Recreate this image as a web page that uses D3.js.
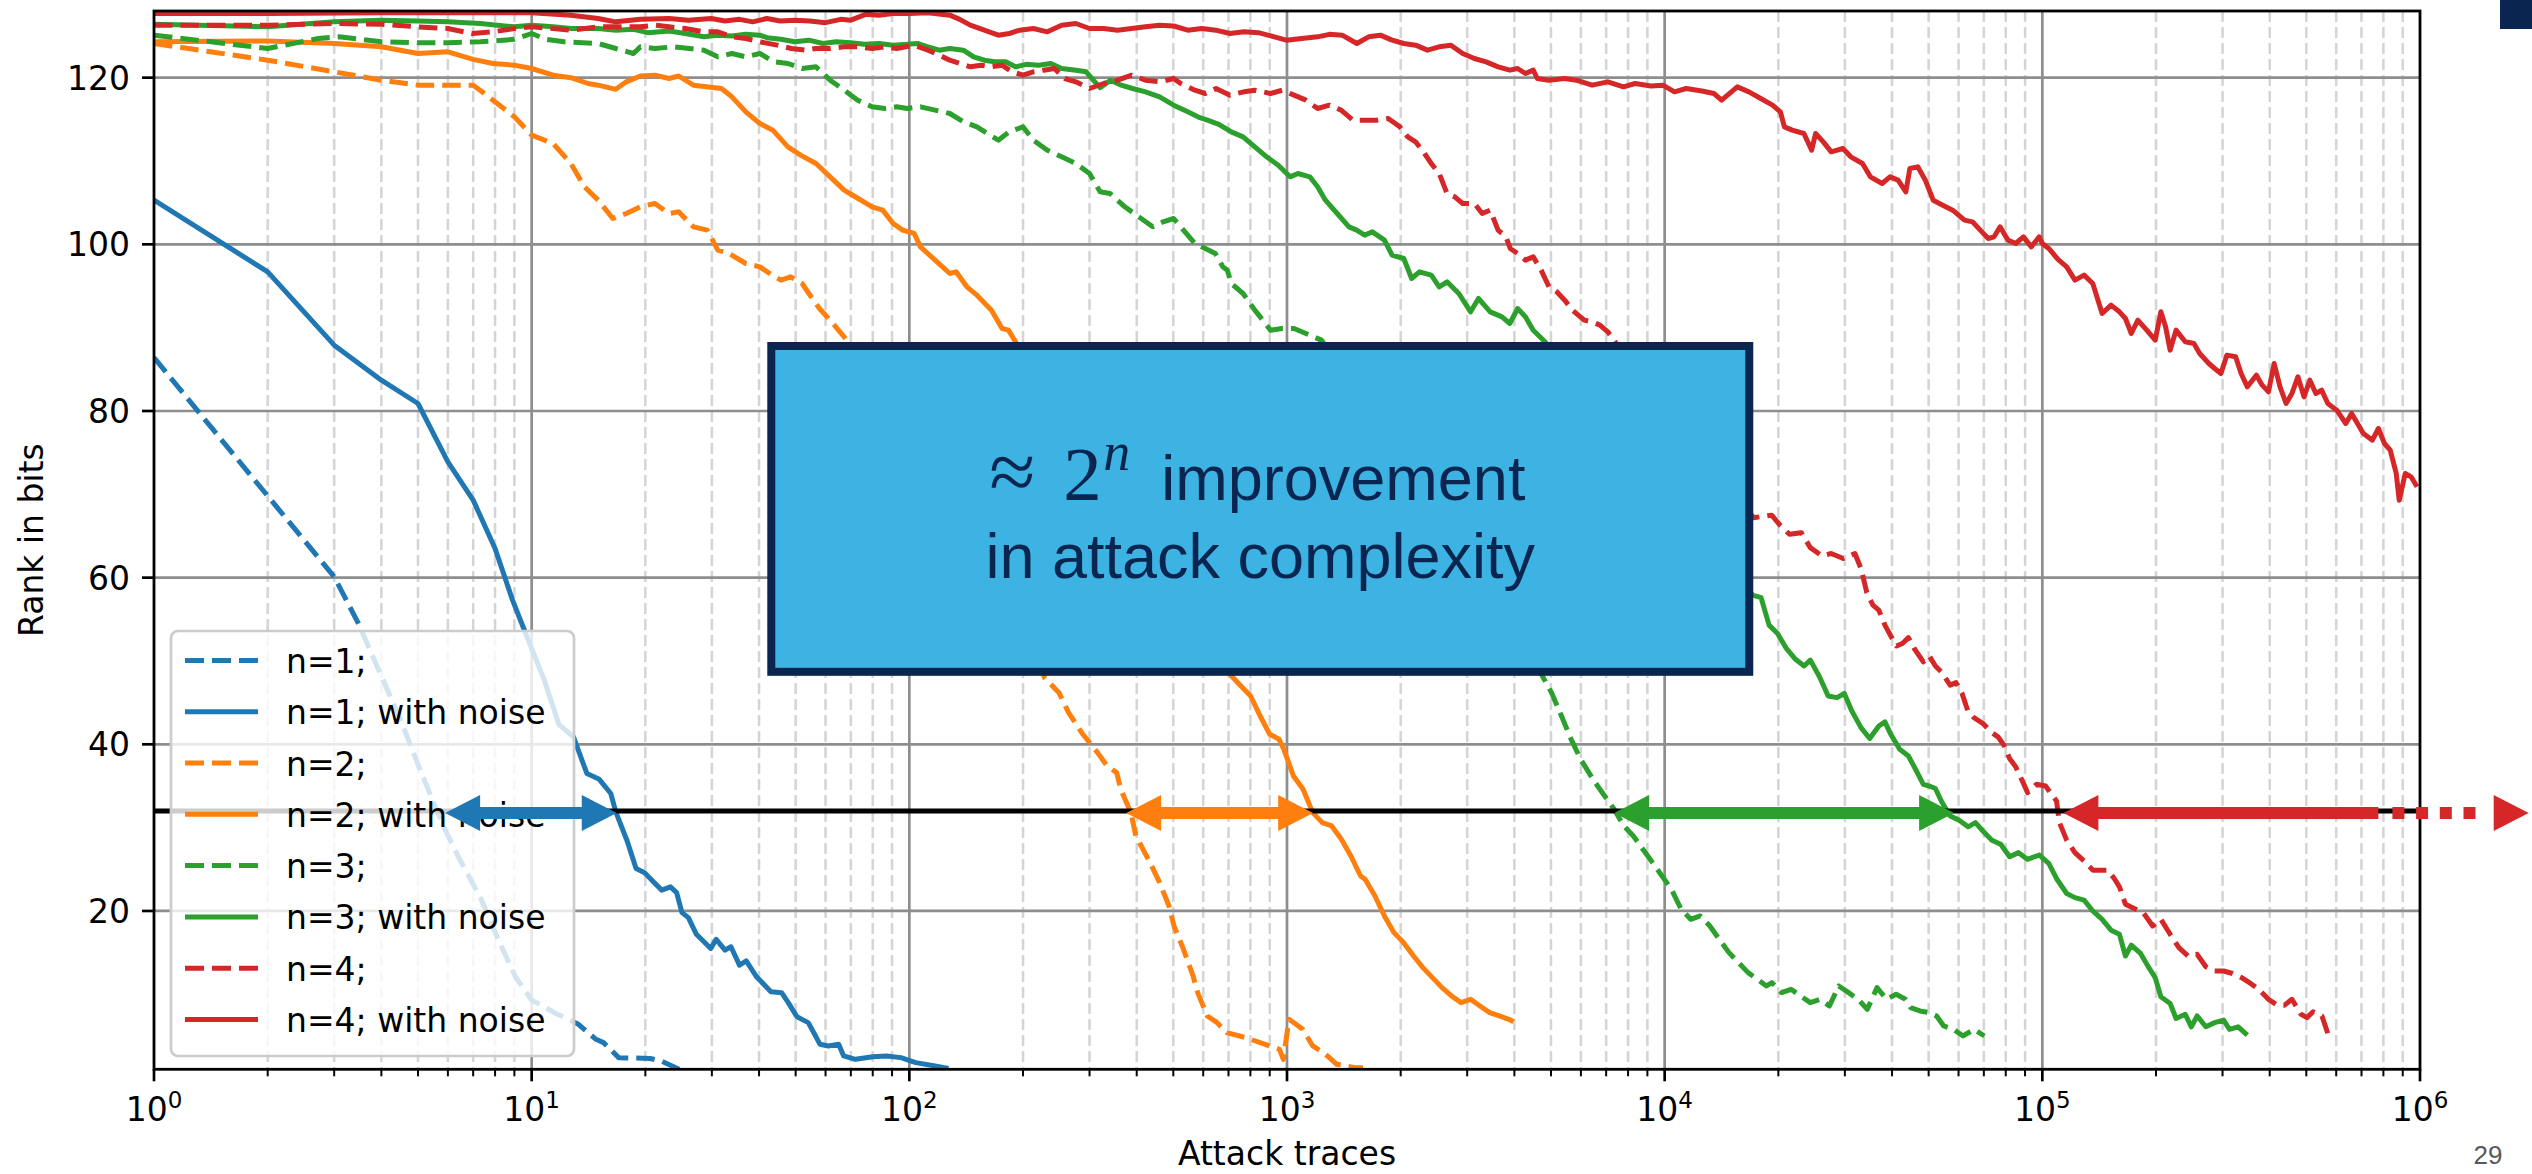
<!DOCTYPE html>
<html>
<head>
<meta charset="utf-8">
<script src="https://cdn.jsdelivr.net/npm/d3@7"></script>
<style>
  body { margin: 0; background: #fff; }
  svg { display: block; }
</style>
</head>
<body>
<div id="d3-container"></div>
<script>
// traces (x) and rank in bits (y)
const n1Plain = [[1,86.4],[2,69.8],[3,60.1],[3.46,54.7],[4.5,42.9],[5.09,36.7],[5.85,30.1],[6.38,26.6],[7.35,21.4],[8.17,16.5],[9.06,12.1],[10,9.3],[11.6,7.7],[13.3,6.4],[14.8,4.6],[15.5,4.2],[17,2.4],[20.6,2.3],[22,2.0],[24.6,1.0]];
const n1Noise = [[1,105.3],[2,96.7],[3,87.9],[4,83.7],[5,80.9],[6,73.9],[7,69.3],[8,63.5],[8.9,57.3],[9.7,53],[10.8,47.7],[11.8,42.4],[12.9,40.9],[14,36.5],[15.1,35.8],[16.2,34.1],[16.7,31.9],[17.9,28.4],[18.9,25.1],[19.9,24.6],[21,23.5],[22.1,22.5],[23.3,22.9],[24.2,22.2],[25,19.8],[26,19.2],[27.3,17.2],[29.8,15.5],[30.8,16.6],[32.5,15.3],[33.7,15.7],[35.5,13.5],[37,14],[39.4,12.1],[43,10.3],[45.9,10.2],[47.8,9],[50.4,7.3],[54,6.6],[56,5.3],[58,4],[61,3.8],[65,4],[67,2.6],[72,2.2],[80,2.5],[87,2.6],[95,2.4],[104,1.8],[117,1.4],[127,1.1]];
const n2Plain = [[1,124.1],[2,122.1],[3,120.7],[4,119.7],[5,119.1],[6,119.1],[7,119.1],[7.3,118.5],[9,115.3],[10,113.1],[11.4,112.1],[12.7,109.7],[13.8,106.9],[15,105.3],[16.4,103.1],[17.8,103.7],[19.4,104.5],[21.2,104.9],[23.1,103.7],[24.5,103.9],[26.8,102.1],[29.2,101.7],[31.1,99.3],[33,99],[36.9,97.7],[40.2,97.3],[43,96.4],[45.7,95.7],[48.5,96.1],[52,95.3],[54.2,94.1],[57.8,92.3],[61.7,90.9],[67.2,88.9],[70,87.7],[100,80],[150,67],[200,55],[228,48],[249,46.2],[264,43.8],[288,41.2],[315,39],[334,37.4],[354,36.6],[363,34.6],[386,31.8],[398,29],[434,25.8],[460,23.4],[487,20.6],[502,18.2],[532,15.4],[564,12.2],[580,10.2],[615,7.4],[653,6.6],[692,5.4],[778,4.8],[849,4.2],[955,3.4],[978,2.2],[1012,7],[1072,6.2],[1100,5.8],[1170,3.8],[1250,3],[1355,1.6],[1514,1.2],[1590,1.2]];
const n2Noise = [[1,124.3],[2,124.4],[3,124.1],[4,123.7],[5,122.9],[6,123.1],[7,122.2],[7.9,121.7],[9,121.5],[10,121.1],[11.4,120.3],[12.7,120],[14.1,119.3],[15,119.1],[16.7,118.6],[17.8,119.5],[19.4,120.2],[21.2,120.3],[23.1,119.9],[24.5,120.2],[26.8,119.1],[29,118.9],[31.8,118.7],[33.9,117.7],[36.9,115.9],[40.2,114.5],[43.5,113.7],[47.7,111.7],[51.5,110.7],[56.6,109.7],[61.7,108.1],[67.2,106.5],[73.2,105.5],[79.7,104.5],[85,104.1],[90.6,102.5],[96,101.7],[103,101.3],[107,99.7],[117,98.1],[128,96.5],[133,96.7],[142,94.9],[151,93.9],[165,92.1],[176,89.9],[183,89.7],[191,88.3],[250,80],[350,68],[500,57],[713,48.2],[755,47],[801,45.8],[849,43.4],[900,41.2],[953,40.6],[981,39.4],[1040,36.2],[1103,34.6],[1170,31.8],[1240,30.6],[1313,30.2],[1393,28.6],[1476,26.6],[1566,24.2],[1610,23.8],[1710,21.8],[1811,19.4],[1920,17.4],[2036,16.2],[2163,14.6],[2290,13.2],[2427,12.0],[2573,10.8],[2727,9.8],[2890,9],[3063,9.4],[3243,8.6],[3441,7.8],[3650,7.4],[3866,7],[3980,6.7]];
const n3Plain = [[1,125.1],[2,123.5],[2.72,124.7],[3.09,124.9],[4,124.3],[5,124.2],[6,124.2],[7.3,124.3],[9,124.6],[10,125.3],[10.9,124.6],[12.2,124.3],[15,124.1],[16.7,123.5],[18.6,122.9],[19.4,123.7],[21.2,123.5],[23.7,123.7],[26.2,123.5],[28.6,123.3],[31.1,122.5],[33.9,122.9],[36.9,122.5],[40.2,122.9],[43.8,121.9],[47.7,121.7],[52,121.1],[56.6,121.3],[61.7,119.7],[67.2,118.5],[73,117.3],[79.7,116.5],[86,116.3],[92.6,116.5],[98.7,116.3],[107,116.5],[117,116.1],[128,115.7],[139,114.7],[151,114.1],[161,113.3],[172,112.5],[184,113.5],[200,114.1],[213,112.5],[232,111.3],[253,110.5],[276,109.7],[300,108.5],[320,106.3],[340,106.1],[372,104.5],[405,103.3],[441,102.1],[470,102.7],[501,103.1],[523,102.1],[570,100.1],[621,99.3],[646,98.9],[676,97.3],[695,96.9],[712,95.3],[765,94.1],[822,92.1],[863,90.9],[904,89.7],[970,89.9],[1044,89.9],[1150,89.1],[1234,88.5],[2000,75],[3000,65],[4000,54],[4744,48.2],[5017,46.2],[5331,43.4],[5654,40.6],[5992,38.2],[6546,35.4],[6937,33.8],[7353,32.2],[7796,30.2],[8264,29],[8758,27.4],[9290,25.8],[9840,24.2],[10420,22.6],[11060,20.2],[11720,19],[12420,19.4],[13170,18.2],[13960,16.6],[14800,15],[15680,13.8],[16630,12.6],[17620,11.8],[18600,11],[19230,11.4],[20400,10.2],[21600,10.6],[22900,9.8],[24300,9],[25800,9.4],[27300,8.6],[28900,11],[30700,10.2],[32500,9.4],[34400,8.2],[36500,10.8],[38700,9.4],[41000,10],[43400,9.4],[44800,8.4],[47400,8],[50200,7.8],[52500,7.4],[54800,6.2],[58200,5.8],[61700,5],[66000,5.8],[70200,5.0]];
const n3Noise = [[1,126.4],[2,126.1],[3,126.7],[4,126.9],[5,126.8],[6,126.7],[7.3,126.5],[9,126.1],[10,126.3],[11.4,126.1],[12.7,125.9],[15,125.9],[16.7,125.7],[18.6,125.8],[20.3,125.4],[23.1,125.6],[25.5,125.3],[28.6,124.9],[31.1,125.1],[33.9,125],[36.9,125.2],[40.2,125.1],[42,124.8],[45.7,124.6],[49.7,124.3],[54.2,124.5],[59,124.1],[64,124.3],[70,124.2],[76,124],[83.2,124.1],[90.6,123.9],[98.7,124],[105,124.1],[112,123.7],[120,123.3],[128,123.5],[139,123.3],[148,122.5],[158,122.1],[168,121.9],[180,121.9],[191,121.3],[204,121.6],[220,121.5],[237,121.7],[253,121.1],[276,120.9],[294,120.7],[307,119.7],[320,118.8],[341,119.7],[364,119.1],[390,118.7],[422,118.3],[460,117.7],[501,116.7],[546,115.9],[588,115.2],[616,114.9],[660,114.4],[712,113.5],[765,112.9],[822,111.7],[883,110.5],[948,109.5],[1019,108.1],[1069,108.5],[1149,108.1],[1205,106.9],[1264,105.3],[1358,103.7],[1459,102.1],[1530,101.7],[1606,101.1],[1683,101.5],[1811,100.5],[1898,98.7],[2038,98.3],[2138,95.9],[2243,96.7],[2410,96.3],[2529,94.9],[2653,95.5],[2851,94.1],[3063,91.9],[3213,93.5],[3452,91.9],[3709,91.3],[3890,90.5],[4080,92.3],[4278,91.3],[4487,89.7],[4821,88.3],[7000,80],[10000,72],[14000,63],[17100,57.9],[18000,57.6],[18900,54.3],[19900,53.3],[21000,51.5],[22200,50.2],[23400,49.4],[24300,50.1],[25700,48.1],[27100,45.8],[28600,45.6],[29900,46.1],[31300,44],[33100,42],[34900,40.7],[36900,42.2],[38300,42.7],[39700,41.2],[41900,39.4],[44200,38.6],[45800,37.3],[48400,35.2],[50200,35],[52100,34.7],[54000,33.2],[57000,31.4],[60200,30.9],[63600,30.1],[66500,30.6],[69600,29.6],[73500,28.5],[77600,28],[81900,26.5],[86500,27],[91300,26.2],[98200,26.7],[104000,25.7],[109000,23.9],[116000,22.1],[122000,21.6],[129000,21.3],[136000,20],[144000,19],[152000,17.7],[160000,17.2],[166000,14.6],[172000,15.9],[182000,14.9],[192000,13.1],[199000,12],[206000,9.7],[218000,8.9],[226000,7.1],[239000,7.6],[248000,6.1],[257000,7.4],[271000,6.1],[286000,6.6],[302000,6.9],[313000,5.8],[330000,6.1],[349000,5.1]];
const n4Plain = [[1,126.3],[2,126.3],[3,126.5],[4,126.4],[5,126.1],[6,125.9],[6.97,125.3],[7.9,125.5],[9,125.9],[10,126.1],[11.4,125.9],[12.7,125.7],[15,126.1],[16.7,126.1],[19.4,126.1],[21.2,126.3],[23.1,126.1],[25.5,125.9],[28.6,125.5],[31.1,125.5],[33.9,124.9],[36.9,124.7],[40.2,124.3],[44.7,123.9],[48.7,123.5],[52.9,123.3],[56.6,123.5],[61.7,123.5],[67.2,123.7],[73,123.7],[79.7,123.5],[86,123.7],[92.6,123.5],[103,123.9],[112,123.3],[120,122.7],[128,122.1],[136,121.7],[145,121.3],[155,121.5],[165,121.3],[176,121.5],[187,120.7],[200,120.3],[213,120.7],[227,120.9],[242,121.1],[258,119.9],[276,119.5],[300,118.7],[327,119.3],[356,119.7],[388,120.3],[422,119.7],[460,119.5],[501,119.9],[523,119.3],[570,118.5],[608,118.1],[649,118.7],[706,117.9],[769,118.3],[822,118.5],[904,118.1],[972,118.5],[1044,117.9],[1122,117.3],[1205,116.3],[1295,116.7],[1391,116.1],[1494,114.9],[1606,114.9],[1725,114.9],[1853,115.1],[1990,114.1],[2088,112.9],[2190,112.3],[2297,111.1],[2410,109.7],[2529,108.5],[2653,106.1],[2782,105.7],[2918,104.9],[3134,104.9],[3288,103.7],[3452,104.1],[3622,101.7],[3798,100.9],[3900,99.5],[4080,98.9],[4278,98.1],[4487,98.5],[4709,96.9],[4939,94.9],[5180,94.3],[5435,93.3],[5700,92.1],[6123,90.9],[6425,90.7],[6740,90.3],[7070,89.5],[10000,80],[13000,74],[17200,67.2],[19200,67.5],[20200,66.3],[21400,65.2],[23000,65.4],[24300,63.6],[26100,62.6],[27600,62.9],[29700,62.3],[31900,62.9],[33100,61.1],[34300,58.2],[35600,56.7],[36900,56.1],[38300,54.3],[39700,53],[41100,51.8],[42600,52.1],[44200,52.8],[45800,51.5],[48400,49.9],[50200,50.6],[52100,49.4],[54000,48.7],[57000,47.1],[59100,47.4],[61300,46.1],[63500,44],[65900,43.2],[69600,42.5],[73500,41.4],[76300,40.9],[79100,39.9],[81900,38.3],[85000,37.3],[88100,35.8],[91400,34.2],[96500,35.2],[102000,35],[105000,34.2],[109000,33.2],[111000,30.6],[116000,28.5],[122000,27],[129000,26],[136000,24.9],[144000,24.9],[149000,24.9],[155000,23.9],[160000,22.9],[166000,20.8],[175000,20.3],[185000,19.8],[196000,18.2],[206000,19],[218000,17.2],[230000,15.6],[243000,14.6],[257000,14.8],[271000,13.3],[286000,12.8],[302000,12.8],[319000,12.5],[337000,12],[356000,11.3],[376000,10.5],[397000,9.4],[419000,8.7],[438000,8.7],[458000,9.4],[484000,7.6],[502000,7.2],[521000,7.9],[550000,7.4],[570000,5.3],[583000,5.0]];
const n4Noise = [[1,127.7],[2,127.7],[4,127.8],[10,127.8],[12.7,127.5],[15,127.1],[16.7,126.7],[19.4,127],[23.1,127.1],[26,126.9],[29.9,127.1],[32.5,126.8],[35.5,127],[38.5,126.7],[42,127.1],[45.5,126.8],[49.7,126.9],[54.5,126.8],[60,126.6],[65.8,127],[70,126.9],[76.6,127.6],[83,127.5],[90.6,127.7],[100,127.7],[112,127.8],[128,127.5],[136,127],[145,126.3],[158,125.7],[172,125.1],[184,125.3],[196,125.7],[213,125.9],[232,125.5],[253,126.3],[276,126.5],[300,125.9],[327,125.9],[356,125.7],[388,125.9],[422,126.1],[460,126.3],[501,126.2],[546,125.7],[595,125.9],[648,125.7],[706,125.3],[769,125.5],[840,125.4],[926,124.9],[995,124.5],[1094,124.7],[1205,124.9],[1295,125.2],[1400,125.1],[1531,124.1],[1645,124.9],[1767,125.1],[1898,124.5],[2038,124.1],[2191,123.9],[2354,123.3],[2529,123.7],[2717,123.9],[2918,122.9],[3134,122.3],[3367,121.9],[3622,121.3],[3890,120.9],[4080,121.1],[4278,120.5],[4487,120.9],[4600,119.9],[4939,119.7],[5435,119.9],[5838,119.7],[6425,119.1],[7070,119.5],[7780,118.9],[8350,119.3],[9200,119],[9890,119.1],[10620,118.3],[11400,118.7],[12550,118.4],[13500,118.1],[14150,117.3],[15570,118.9],[16720,118.3],[17960,117.5],[19300,116.7],[20250,115.9],[20750,114.1],[21750,113.7],[23370,113.3],[24500,111.3],[25100,113.3],[26300,112.3],[27600,111.1],[29650,111.5],[31100,110.5],[33400,109.7],[35050,108.1],[37650,107.3],[39500,108.1],[41500,107.7],[43500,106.3],[44600,109.1],[46800,109.3],[49000,107.7],[51400,105.3],[54500,104.7],[57900,104.1],[62200,102.9],[65300,102.7],[68500,101.7],[71900,100.7],[74500,100.9],[77300,102.1],[81100,100.5],[85000,100.1],[89100,100.9],[93500,99.7],[98100,100.9],[100000,100.1],[104000,99.5],[110000,98.2],[116000,97.3],[122000,95.7],[129000,96.3],[136000,95.3],[144000,91.7],[152000,92.7],[160000,91.9],[166000,91.1],[172000,89.3],[179000,90.9],[189000,89.7],[199000,88.5],[206000,91.9],[212000,90.1],[218000,87.3],[226000,89.7],[239000,88.3],[252000,88.1],[261000,86.9],[276000,85.7],[286000,85.1],[297000,84.5],[308000,86.7],[325000,86.5],[336000,84.5],[349000,82.9],[369000,84.3],[382000,83.1],[397000,82.3],[411000,85.7],[426000,82.9],[442000,80.9],[458000,82.1],[475000,84.1],[493000,81.7],[511000,83.7],[530000,82.1],[549000,82.5],[570000,80.9],[602000,80.1],[636000,78.5],[659000,79.7],[683000,78.5],[708000,77.3],[748000,76.5],[776000,77.9],[805000,76.1],[834000,75.3],[865000,72.5],[881000,69.3],[914000,72.5],[947000,72.1],[982000,70.9]];

const legendLabels = ["n=1;", "n=1; with noise", "n=2;", "n=2; with noise", "n=3;", "n=3; with noise", "n=4;", "n=4; with noise"];
const colors = ["#1f77b4", "#ff7f0e", "#2ca02c", "#d62728"];
const yTicks = [20, 40, 60, 80, 100, 120];
const xTickExps = [0, 1, 2, 3, 4, 5, 6];
const threshold = 32;

// overlay arrows (traces where each pair of curves crosses the threshold)
const arrows = [
  { from: 5.9, to: 16.8, color: colors[0] },
  { from: 375, to: 1173, color: colors[1] },
  { from: 7350, to: 58400, color: colors[2] },
  { from: 113700, to: 1940000, dotsFrom: 776000, color: colors[3] }
];
// overlay box, in data units (traces, rank)
const boxX = [43.1, 16750];
const boxY = [87.8, 48.7];

const width = 2532;
const height = 1174;
const margin = { top: 11, right: 112, bottom: 105, left: 154 };

const xScale = d3.scaleLog()
    .domain([1, 1e6])
    .range([margin.left, width - margin.right]);

const yScale = d3.scaleLinear()
    .domain([1, 128])
    .range([1069.3, margin.top]);

const svg = d3.select("#d3-container")
    .append("svg")
    .attr("width", width)
    .attr("height", height)
    .style("font-family", "'DejaVu Sans', sans-serif");

const x0 = xScale.range()[0], x1 = xScale.range()[1];
const yB = yScale.range()[0], yT = yScale.range()[1];

svg.append("defs").append("clipPath")
    .attr("id", "plot-clip")
    .append("rect")
    .attr("x", x0).attr("y", yT)
    .attr("width", x1 - x0).attr("height", yB - yT);

// minor x grid
const minorX = [];
d3.range(0, 6).forEach(k => d3.range(2, 10).forEach(m => minorX.push(m * Math.pow(10, k))));

svg.append("g")
    .selectAll("line")
    .data(minorX)
    .enter()
    .append("line")
    .attr("x1", d => xScale(d)).attr("x2", d => xScale(d))
    .attr("y1", yT).attr("y2", yB)
    .attr("stroke", "#d4d4d4")
    .attr("stroke-width", 2.5)
    .attr("stroke-dasharray", "11,5");

// major grid
svg.append("g")
    .selectAll("line")
    .data(xTickExps.slice(1, -1))
    .enter()
    .append("line")
    .attr("x1", d => xScale(Math.pow(10, d))).attr("x2", d => xScale(Math.pow(10, d)))
    .attr("y1", yT).attr("y2", yB)
    .attr("stroke", "#8e8e8e")
    .attr("stroke-width", 2.7);

svg.append("g")
    .selectAll("line")
    .data(yTicks)
    .enter()
    .append("line")
    .attr("x1", x0).attr("x2", x1)
    .attr("y1", d => yScale(d)).attr("y2", d => yScale(d))
    .attr("stroke", "#8e8e8e")
    .attr("stroke-width", 2.7);

// curves
const series = [n1Plain, n1Noise, n2Plain, n2Noise, n3Plain, n3Noise, n4Plain, n4Noise].map((data, i) => ({
    data: data,
    label: legendLabels[i],
    color: colors[Math.floor(i / 2)],
    dashed: i % 2 === 0
}));

const line = d3.line()
    .x(d => xScale(d[0]))
    .y(d => yScale(d[1]));

const plot = svg.append("g").attr("clip-path", "url(#plot-clip)");

plot.selectAll("path.curve")
    .data(series)
    .enter()
    .append("path")
    .attr("class", "curve")
    .attr("d", d => line(d.data))
    .attr("fill", "none")
    .attr("stroke", d => d.color)
    .attr("stroke-width", 5)
    .attr("stroke-linejoin", "round")
    .attr("stroke-dasharray", d => d.dashed ? "18.5,8" : null);

// threshold line
plot.append("line")
    .attr("x1", x0).attr("x2", x1)
    .attr("y1", yScale(threshold)).attr("y2", yScale(threshold))
    .attr("stroke", "black")
    .attr("stroke-width", 5);

// spines
svg.append("rect")
    .attr("x", x0).attr("y", yT)
    .attr("width", x1 - x0).attr("height", yB - yT)
    .attr("fill", "none")
    .attr("stroke", "black")
    .attr("stroke-width", 2.8);

// y axis ticks + labels
const yAxis = svg.append("g");
yAxis.selectAll("line")
    .data(yTicks)
    .enter()
    .append("line")
    .attr("x1", x0 - 12).attr("x2", x0)
    .attr("y1", d => yScale(d)).attr("y2", d => yScale(d))
    .attr("stroke", "black").attr("stroke-width", 2.7);
yAxis.selectAll("text")
    .data(yTicks)
    .enter()
    .append("text")
    .attr("x", x0 - 24)
    .attr("y", d => yScale(d) + 12)
    .attr("text-anchor", "end")
    .attr("font-size", 33)
    .text(d => d);

// x axis ticks + labels
const xAxis = svg.append("g");
xAxis.selectAll("line.minor")
    .data(minorX)
    .enter()
    .append("line")
    .attr("class", "minor")
    .attr("x1", d => xScale(d)).attr("x2", d => xScale(d))
    .attr("y1", yB).attr("y2", yB + 7)
    .attr("stroke", "black").attr("stroke-width", 2);
xAxis.selectAll("line.major")
    .data(xTickExps)
    .enter()
    .append("line")
    .attr("class", "major")
    .attr("x1", d => xScale(Math.pow(10, d))).attr("x2", d => xScale(Math.pow(10, d)))
    .attr("y1", yB).attr("y2", yB + 12)
    .attr("stroke", "black").attr("stroke-width", 2.7);
const xLabels = xAxis.selectAll("text")
    .data(xTickExps)
    .enter()
    .append("text")
    .attr("x", d => xScale(Math.pow(10, d)))
    .attr("y", yB + 52)
    .attr("text-anchor", "middle")
    .attr("font-size", 33);
xLabels.append("tspan").text("10");
xLabels.append("tspan")
    .attr("dy", -13)
    .attr("font-size", 23)
    .text(d => d);

// axis titles
svg.append("text")
    .attr("x", (x0 + x1) / 2)
    .attr("y", 1165)
    .attr("text-anchor", "middle")
    .attr("font-size", 33)
    .text("Attack traces");

svg.append("text")
    .attr("transform", `translate(43, ${(yT + yB) / 2}) rotate(-90)`)
    .attr("text-anchor", "middle")
    .attr("font-size", 33)
    .text("Rank in bits");

// legend
const legend = svg.append("g");
legend.append("rect")
    .attr("x", 171).attr("y", 631)
    .attr("width", 403).attr("height", 425)
    .attr("rx", 7)
    .attr("fill", "white").attr("fill-opacity", 0.8)
    .attr("stroke", "#cccccc").attr("stroke-width", 2.7);

const rows = legend.selectAll("g.row")
    .data(series)
    .enter()
    .append("g")
    .attr("class", "row")
    .attr("transform", (d, i) => `translate(185, ${660.4 + i * 51.3})`);
rows.append("line")
    .attr("x1", 0).attr("x2", 73)
    .attr("stroke", d => d.color)
    .attr("stroke-width", 5)
    .attr("stroke-dasharray", d => d.dashed ? "19,8" : null);
rows.append("text")
    .attr("x", 101)
    .attr("y", 12.5)
    .attr("font-size", 33)
    .text(d => d.label);

// overlay arrows
const yc = yScale(threshold) + 2;
const hl = 35, hh = 18, sw = 6;
function arrowPath(a, b, leftHead, rightHead) {
    const p = d3.path();
    const la = leftHead ? a + hl : a;
    const rb = rightHead ? b - hl : b;
    p.moveTo(a, yc);
    if (leftHead) { p.lineTo(la, yc - hh); }
    p.lineTo(la, yc - sw);
    p.lineTo(rb, yc - sw);
    if (rightHead) { p.lineTo(rb, yc - hh); p.lineTo(b, yc); p.lineTo(rb, yc + hh); }
    p.lineTo(rb, yc + sw);
    p.lineTo(la, yc + sw);
    if (leftHead) { p.lineTo(la, yc + hh); }
    p.closePath();
    return p.toString();
}

const overlay = svg.append("g");
arrows.forEach(a => {
    const xa = xScale(a.from), xb = xScale(a.to);
    if (a.dotsFrom === undefined) {
        overlay.append("path").attr("d", arrowPath(xa, xb, true, true)).attr("fill", a.color);
    } else {
        const xd = xScale(a.dotsFrom);
        overlay.append("path").attr("d", arrowPath(xa, xd, true, false)).attr("fill", a.color);
        overlay.append("line")
            .attr("x1", xd + 14).attr("x2", xb - hl - 18)
            .attr("y1", yc).attr("y2", yc)
            .attr("stroke", a.color)
            .attr("stroke-width", sw * 2)
            .attr("stroke-dasharray", "12,11.7");
        overlay.append("path")
            .attr("d", `M${xb - hl},${yc - hh}L${xb},${yc}L${xb - hl},${yc + hh}Z`)
            .attr("fill", a.color);
    }
});

// overlay box
const bx0 = xScale(boxX[0]), bx1 = xScale(boxX[1]);
const by0 = yScale(boxY[0]), by1 = yScale(boxY[1]);
overlay.append("rect")
    .attr("x", bx0).attr("y", by0)
    .attr("width", bx1 - bx0).attr("height", by1 - by0)
    .attr("fill", "#3db3e4")
    .attr("stroke", "#0a2550")
    .attr("stroke-width", 8);

const cx = (bx0 + bx1) / 2;
const cy = (by0 + by1) / 2;
const navy = "#0a2550";
overlay.append("text")
    .attr("x", cx - 271).attr("y", cy - 9)
    .attr("font-family", "'Liberation Serif', serif")
    .attr("font-size", 84)
    .attr("fill", navy)
    .text("≈");
overlay.append("text")
    .attr("x", cx - 197).attr("y", cy - 9)
    .attr("font-family", "'Liberation Serif', serif")
    .attr("font-size", 77)
    .attr("fill", navy)
    .text("2");
overlay.append("text")
    .attr("x", cx - 157).attr("y", cy - 39)
    .attr("font-family", "'Liberation Serif', serif")
    .attr("font-style", "italic")
    .attr("font-size", 54)
    .attr("fill", navy)
    .text("n");
overlay.append("text")
    .attr("x", cx - 99).attr("y", cy - 9)
    .attr("font-family", "'Liberation Sans', Arial, sans-serif")
    .attr("font-size", 63)
    .attr("fill", navy)
    .text("improvement");
overlay.append("text")
    .attr("x", cx).attr("y", cy + 69)
    .attr("text-anchor", "middle")
    .attr("font-family", "'Liberation Sans', Arial, sans-serif")
    .attr("font-size", 63)
    .attr("fill", navy)
    .text("in attack complexity");

// slide decoration
svg.append("rect")
    .attr("x", 2500).attr("y", 0)
    .attr("width", 32).attr("height", 29)
    .attr("fill", navy);
svg.append("text")
    .attr("x", 2488).attr("y", 1164)
    .attr("text-anchor", "middle")
    .attr("font-family", "'Liberation Sans', Arial, sans-serif")
    .attr("font-size", 26)
    .attr("fill", "#595959")
    .text("29");
</script>
</body>
</html>
